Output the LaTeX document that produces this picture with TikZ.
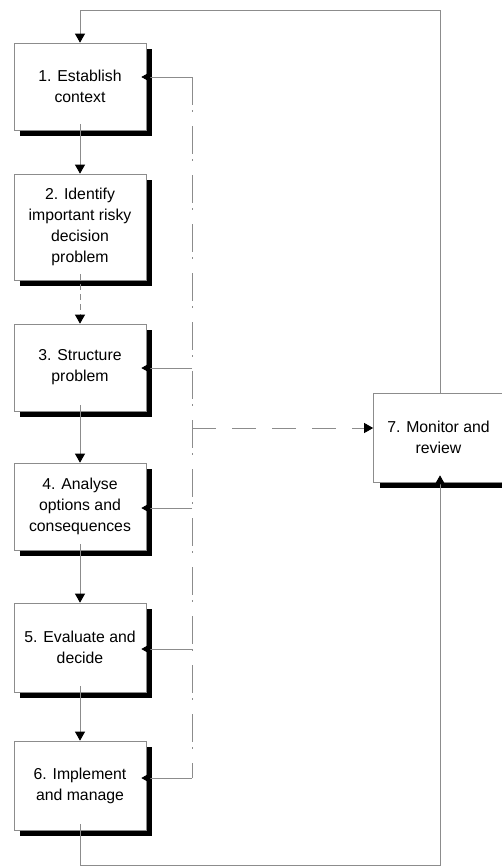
\documentclass[tikz,border=0pt]{standalone}
\usepackage{fontspec}
\setmainfont{Liberation Sans}
\usetikzlibrary{arrows.meta,shadows,calc}
\begin{document}
\begin{tikzpicture}[x=1pt,y=-1pt,
  stepbox/.style={draw=black!45, line width=0.7pt, fill=white, minimum width=132pt,
    align=center, font=\fontsize{15.8}{21}\selectfont, inner sep=0pt,
    drop shadow={shadow xshift=6pt, shadow yshift=-6pt, fill=black, opacity=1}},
  link/.style={draw=black!45, line width=0.9pt},
  tip/.style={-{Triangle[length=9pt,width=10pt,color=black]}},
  dashdot/.style={link, dash pattern=on 28pt off 5pt on 2pt off 14pt},
  longdash/.style={link, dash pattern=on 24pt off 16pt}]
\useasboundingbox (0,0) rectangle (502,867);
\node[stepbox, minimum height=87pt] (b1) at (80,86.5) {1. Establish\\context};
\node[stepbox, minimum height=106pt] (b2) at (80,227) {2. Identify\\important risky\\decision\\problem};
\node[stepbox, minimum height=87pt] (b3) at (80,367.5) {3. Structure\\problem};
\node[stepbox, minimum height=87pt] (b4) at (80,506.5) {4. Analyse\\options and\\consequences};
\node[stepbox, minimum height=89pt] (b5) at (80,647.5) {5. Evaluate and\\decide};
\node[stepbox, minimum height=89pt] (b6) at (80,785.5) {6. Implement\\and manage};
\node[stepbox, minimum width=130pt, minimum height=89pt] (b7) at (438.5,437.5) {7. Monitor and\\review};
% chain
\draw[link,tip] ([yshift=6pt]b1.south) -- (b2.north);
\draw[link,tip,dash pattern=on 6pt off 4pt] ([yshift=6pt]b2.south) -- (b3.north);
\draw[link,tip] ([yshift=6pt]b3.south) -- (b4.north);
\draw[link,tip] ([yshift=6pt]b4.south) -- (b5.north);
\draw[link,tip] ([yshift=6pt]b5.south) -- (b6.north);
% feedback bus
\coordinate (f1) at (192,77);
\coordinate (f3) at (192,368);
\coordinate (f4) at (192,508);
\coordinate (f5) at (192,649);
\coordinate (f6) at (192,778);
\coordinate (f7) at (192,428);
\draw[dashdot] (f1) -- (f6);
\draw[link,tip,shorten >=-5pt] (f1) -- (f1 -| b1.east);
\draw[link,tip,shorten >=-5pt] (f3) -- (f3 -| b3.east);
\draw[link,tip,shorten >=-5pt] (f4) -- (f4 -| b4.east);
\draw[link,tip,shorten >=-5pt] (f5) -- (f5 -| b5.east);
\draw[link,tip,shorten >=-5pt] (f6) -- (f6 -| b6.east);
\draw[longdash,tip] (f7) -- (f7 -| b7.west);
% top loop
\coordinate (t1) at (440,10);
\coordinate (t2) at (80,10);
\draw[link,tip] (b7.north -| t1) -- (t1) -- (t2) -- (b1.north);
% bottom loop
\coordinate (u1) at (80,865);
\coordinate (u2) at (440,865);
\draw[link,tip,shorten >=-7pt] ([yshift=6pt]b6.south) -- (u1) -- (u2) -- (b7.south -| u2);
\end{tikzpicture}
\end{document}
